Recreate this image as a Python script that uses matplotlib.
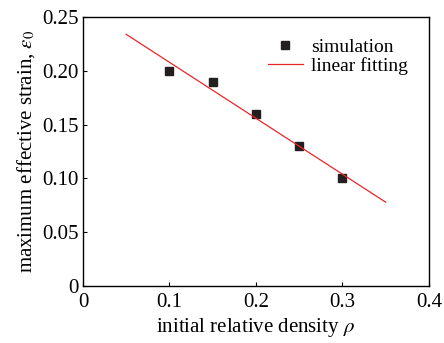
import matplotlib.pyplot as plt

plt.rcParams["font.family"] = ["Liberation Serif", "DejaVu Serif"]
plt.rcParams["mathtext.fontset"] = "stix"

density = [0.1, 0.15, 0.2, 0.25, 0.3]
strain = [0.2, 0.19, 0.16, 0.13, 0.1]

# endpoints of the fitted line
fit_x = [0.05, 0.35]
fit_y = [0.234, 0.078]

fig = plt.figure(figsize=(4.44, 3.43), dpi=100)
ax = fig.add_axes([0.187, 0.166, 0.779, 0.784])

ax.plot(density, strain, "s", color="#231f20", markersize=6, label="simulation")
ax.plot(fit_x, fit_y, "-", color="#e8262a", linewidth=0.9, label="linear fitting")

ax.set_xlim(0, 0.4)
ax.set_ylim(0, 0.25)
ax.set_xticks([0, 0.1, 0.2, 0.3, 0.4])
ax.set_xticklabels(["0", "0.1", "0.2", "0.3", "0.4"])
ax.set_yticks([0, 0.05, 0.1, 0.15, 0.2, 0.25])
ax.set_yticklabels(["0", "0.05", "0.10", "0.15", "0.20", "0.25"])
ax.tick_params(direction="in", labelsize=15, length=3, width=0.8)
ax.tick_params(axis="x", pad=5)
ax.tick_params(axis="y", pad=3)
ax.get_yticklabels()[0].set_y(0.004)

for s in ax.spines.values():
    s.set_linewidth(1.0)

ax.set_xlabel(r"initial relative density $\rho$", fontsize=15, labelpad=3)
ax.set_ylabel(r"maximum effective strain, $\varepsilon_0$", fontsize=15, labelpad=4)

ax.legend(loc="upper right", frameon=False, fontsize=14, handlelength=1.8,
          handletextpad=0.4, labelspacing=0.05, borderaxespad=0.7)

fig.savefig("out.png", dpi=100)
